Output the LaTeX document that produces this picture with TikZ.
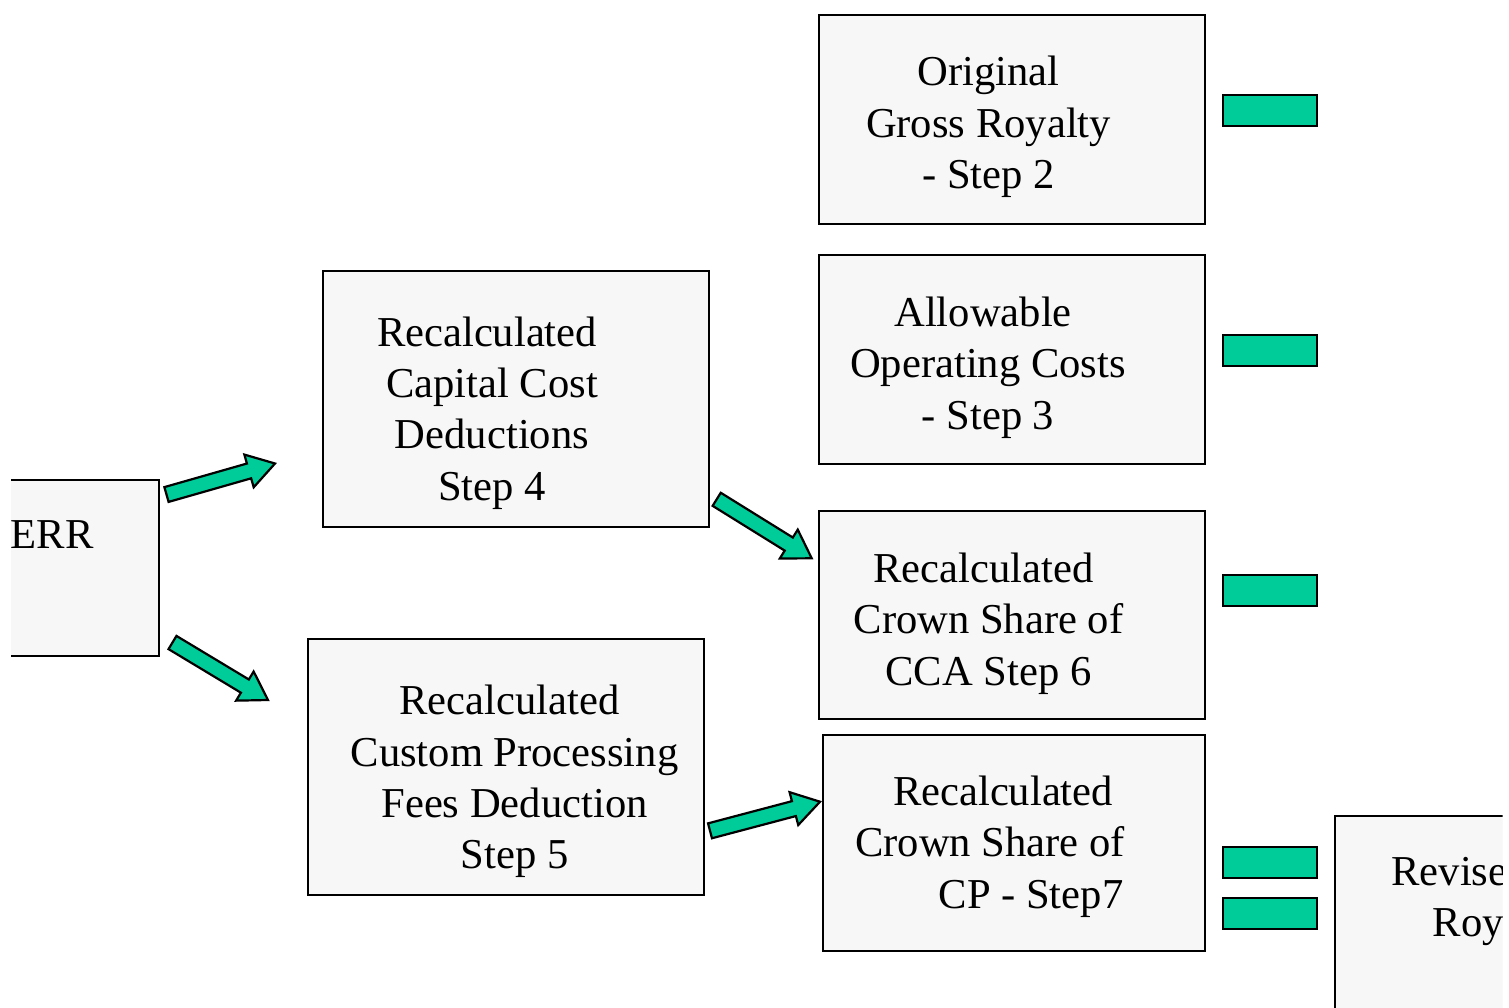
\documentclass[tikz,border=0pt]{standalone}
\usepackage{fontspec}
\setmainfont{Liberation Serif}
\usetikzlibrary{calc}
\definecolor{boxfill}{HTML}{F7F7F7}
\definecolor{grn}{HTML}{00CC99}
\tikzset{
  stepbox/.style={draw=black, line width=1pt, fill=boxfill, inner sep=0pt},
  bar/.style={draw=black, line width=1.1pt, fill=grn, inner sep=0pt, minimum width=47pt, minimum height=15.5pt},
  garrow/.style={draw=black, line width=1.1pt, fill=grn, line join=miter},
  lbl/.style={align=center, font=\fontsize{21.3pt}{25.65pt}\selectfont, inner sep=0pt},
  plainlbl/.style={font=\fontsize{21.3pt}{25.65pt}\selectfont, inner sep=0pt, anchor=base west},
}
\newcommand{\blockarrow}[2]{%
  \coordinate (#1-h) at ($(#2)!13.5pt!(#1)$);
  \draw[garrow] ($(#1)!3.85pt!90:(#2)$) -- ($(#1-h)!3.85pt!90:(#2)$) -- ($(#1-h)!8.5pt!90:(#2)$) -- (#2) -- ($(#1-h)!8.5pt!-90:(#2)$) -- ($(#1-h)!3.85pt!-90:(#2)$) -- ($(#1)!3.85pt!-90:(#2)$) -- cycle;
}
\begin{document}
\begin{tikzpicture}[x=0.5pt,y=-0.5pt]
\useasboundingbox (0,0) rectangle (1509,1007);
\fill[white] (0,0) rectangle (1509,1007);
\begin{scope}
\clip (11,0) rectangle (1502.5,1007);
% clipped boxes at the picture edges
\node[stepbox, minimum width=94.25pt, minimum height=87.75pt] (err) at (64.25,567.75) {};
\node[plainlbl] (errtxt) at (10.5,548.3) {ERR};
\node[stepbox, minimum width=112.5pt, minimum height=122.25pt] (rev) at (1447.5,937.75) {};
\node[plainlbl] (revtxt1) at (1391,885) {Revise};
\node[plainlbl] (revtxt2) at (1432.5,936) {Roy};
\end{scope}
% step boxes
\node[stepbox, minimum width=193pt, minimum height=104.5pt] (s2) at (1012,119.5) {};
\node[stepbox, minimum width=193pt, minimum height=104.5pt] (s3) at (1012,359.5) {};
\node[stepbox, minimum width=193pt, minimum height=104pt] (s6) at (1012,615) {};
\node[stepbox, minimum width=191pt, minimum height=108pt] (s7) at (1014,843) {};
\node[stepbox, minimum width=193pt, minimum height=128pt] (s4) at (516,399) {};
\node[stepbox, minimum width=198pt, minimum height=128pt] (s5) at (506,767) {};
% labels
\node[lbl] (t2) at (988.5,127) {Original\\Gross Royalty\\- Step 2};
\node[lbl] (t3) at (988,367.5) {Allowable\hspace*{5pt}\\Operating Costs\\- Step 3};
\node[lbl] (t6) at (988.5,623.5) {Recalculated\hspace*{5pt}\\Crown Share of\\CCA Step 6};
\node[lbl] (t7) at (990,846.7) {\hspace*{13pt}Recalculated\\Crown Share of\\\hspace*{41pt}CP - Step7};
\node[lbl] (t4) at (492,413) {Recalculated\hspace*{5pt}\\Capital Cost\\Deductions\\Step 4};
\node[lbl] (t5) at (514.5,781.5) {Recalculated\hspace*{5pt}\\Custom Processing\\Fees Deduction\\Step 5};
% green bars
\node[bar] (g1) at (1270,110.5) {};
\node[bar] (g2) at (1270,350.5) {};
\node[bar] (g3) at (1270,590.5) {};
\node[bar] (g4) at (1270,862.5) {};
\node[bar] (g5) at (1270,913.5) {};
% block arrows
\coordinate (a1t) at (166.5,494.5);
\coordinate (a1) at (275,463.5);
\coordinate (a2t) at (172.5,642.5);
\coordinate (a2) at (268,700);
\coordinate (a3t) at (716.7,499.3);
\coordinate (a3) at (811.7,558.3);
\coordinate (a4t) at (710,830.8);
\coordinate (a4) at (820,801.7);
\blockarrow{a1t}{a1}
\blockarrow{a2t}{a2}
\blockarrow{a3t}{a3}
\blockarrow{a4t}{a4}
\end{tikzpicture}
\end{document}
